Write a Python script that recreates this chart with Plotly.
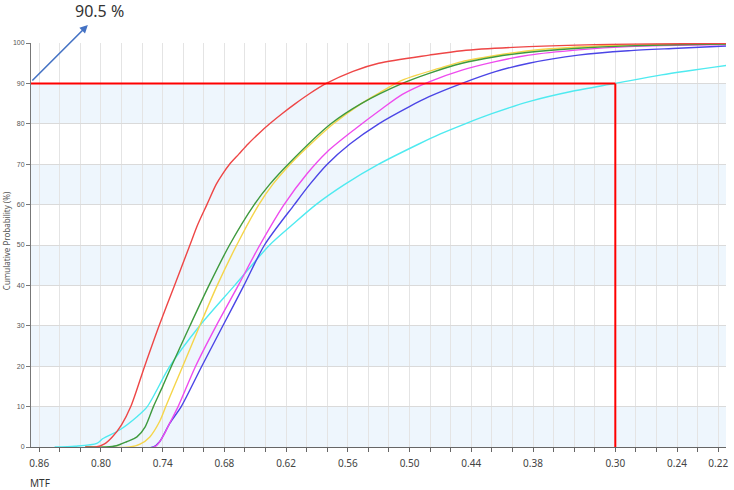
import plotly.graph_objects as go

# ---- data (MTF value, cumulative probability %) ----
mtf_red = [0.815, 0.805, 0.797, 0.789, 0.780, 0.771, 0.7575, 0.7435, 0.7285, 0.7135, 0.706, 0.697, 0.688,
           0.682, 0.675, 0.666, 0.657, 0.647, 0.636, 0.624, 0.611, 0.597, 0.581, 0.555, 0.530, 0.481,
           0.449, 0.384, 0.319, 0.19]
pct_red = [0, 0, 0.7, 2.5, 5.5, 10, 20, 30, 40, 50, 55, 60, 65,
           67.5, 70, 72.5, 75, 77.5, 80, 82.5, 85, 87.5, 90, 93, 95, 97,
           98.1, 99.1, 99.6, 99.9]

mtf_green = [0.815, 0.795, 0.785, 0.775, 0.765, 0.757, 0.749, 0.740, 0.7315, 0.7135, 0.695, 0.675, 0.651,
             0.636, 0.618, 0.5765, 0.547, 0.507, 0.481, 0.449, 0.4166, 0.384, 0.336, 0.287, 0.19]
pct_green = [0, 0, 0.3, 1.3, 2.5, 5, 10, 15, 20, 30, 40, 50, 60,
             65, 70, 80, 85, 90, 92.5, 95, 96.6, 97.7, 98.7, 99.3, 99.75]

mtf_yellow = [0.815, 0.772, 0.762, 0.7525, 0.743, 0.737, 0.7205, 0.704, 0.687, 0.668, 0.6465, 0.633, 0.616,
              0.596, 0.574, 0.547, 0.527, 0.507, 0.4715, 0.449, 0.4166, 0.384, 0.336, 0.287, 0.19]
pct_yellow = [0, 0, 0.7, 2.5, 6.3, 10, 20, 30, 40, 50, 60, 65, 70,
              75, 80, 85, 88, 90.8, 93.7, 95.4, 96.9, 98.1, 99.0, 99.5, 99.8]

mtf_magenta = [0.815, 0.748, 0.740, 0.733, 0.725, 0.708, 0.688, 0.6665, 0.6455, 0.622, 0.5995, 0.580,
               0.552, 0.5265, 0.507, 0.481, 0.449, 0.4166, 0.384, 0.336, 0.287, 0.19]
pct_magenta = [0, 0, 2.5, 6, 10, 20, 30, 40, 50, 60, 67.7, 73.1,
               78.9, 83.8, 87.3, 90.4, 93.3, 95.4, 97, 98.3, 99.1, 99.6]

mtf_blue = [0.815, 0.749, 0.743, 0.733, 0.722, 0.702, 0.6815, 0.661, 0.641, 0.612, 0.597, 0.580, 0.558,
            0.530, 0.5006, 0.481, 0.449, 0.4166, 0.384, 0.336, 0.2874, 0.239, 0.19]
pct_blue = [0, 0, 1.3, 5.9, 10, 20, 30, 40, 50, 60, 65, 70, 75,
            80, 84.2, 86.7, 90, 92.9, 95, 97, 98.1, 98.7, 99.3]

mtf_cyan = [0.845, 0.825, 0.804, 0.798, 0.782, 0.765, 0.755, 0.733, 0.704, 0.670, 0.636, 0.614, 0.591,
            0.563, 0.530, 0.491, 0.470, 0.446, 0.420, 0.384, 0.343, 0.30, 0.255, 0.19]
pct_cyan = [0, 0.2, 0.9, 2.1, 4.2, 7.5, 10, 20, 30, 40, 50, 55, 60,
            65, 70, 75, 77.5, 80, 82.5, 85.5, 88, 90, 92.1, 94.5]

threshold_pct = 90
threshold_mtf = 0.30
annotation_text = "90.5 %"

x_tick_positions = [round(0.86 - 0.02 * i, 2) for i in range(34)]
x_label_positions = [0.86, 0.80, 0.74, 0.68, 0.62, 0.56, 0.50, 0.44, 0.38, 0.30, 0.24, 0.20]
x_label_texts = ["0.86", "0.80", "0.74", "0.68", "0.62", "0.56", "0.50", "0.44", "0.38", "0.30", "0.24", "0.22"]
y_ticks = [0, 10, 20, 30, 40, 50, 60, 70, 80, 90, 100]

X_MAX, X_MIN = 0.868, 0.1924

series = [
    (mtf_cyan, pct_cyan, "#4FEAF0"),
    (mtf_blue, pct_blue, "#4B45E6"),
    (mtf_magenta, pct_magenta, "#EE4BEE"),
    (mtf_yellow, pct_yellow, "#F5D54A"),
    (mtf_green, pct_green, "#3E9A3E"),
    (mtf_red, pct_red, "#EE4646"),
]

fig = go.Figure()
for xs, ys, col in series:
    fig.add_trace(go.Scatter(x=xs, y=ys, mode="lines",
                             line=dict(color=col, width=1.4, shape="spline", smoothing=0.8),
                             showlegend=False, hoverinfo="skip"))

shapes = []
for lo in [0, 20, 40, 60, 80]:
    shapes.append(dict(type="rect", xref="paper", yref="y", x0=0, x1=1, y0=lo, y1=lo + 10,
                       fillcolor="#EEF6FD", line=dict(width=0), layer="below"))
shapes.append(dict(type="line", xref="x", yref="y", x0=X_MAX, x1=threshold_mtf,
                   y0=threshold_pct, y1=threshold_pct, line=dict(color="#FF0000", width=2), layer="above"))
shapes.append(dict(type="line", xref="x", yref="y", x0=threshold_mtf, x1=threshold_mtf,
                   y0=threshold_pct, y1=0, line=dict(color="#FF0000", width=2), layer="above"))

ticktext = []
for v in x_tick_positions:
    if v in x_label_positions:
        ticktext.append(x_label_texts[x_label_positions.index(v)])
    else:
        ticktext.append("")

fig.update_layout(
    width=734, height=490,
    margin=dict(l=31, r=6, t=43, b=43),
    plot_bgcolor="white", paper_bgcolor="white",
    font=dict(family="Noto Sans, Open Sans, sans-serif", color="#444"),
    shapes=shapes,
    xaxis=dict(range=[X_MAX, X_MIN], tickmode="array", tickvals=x_tick_positions, ticktext=ticktext,
               showgrid=True, gridcolor="#E4E4E4", gridwidth=1, zeroline=False,
               ticks="outside", ticklen=4, tickcolor="#666", showline=True, linecolor="#666",
               linewidth=1, tickfont=dict(size=10, color="#444"), ticklabelstandoff=3),
    yaxis=dict(range=[0, 100], tickmode="array", tickvals=y_ticks,
               showgrid=True, gridcolor="#DADADA", gridwidth=1, zeroline=False,
               ticks="outside", ticklen=4, tickcolor="#777", showline=True, linecolor="#777",
               linewidth=1, tickfont=dict(size=7, color="#555", family="Liberation Sans Narrow, Liberation Sans")),
    annotations=[
        dict(xref="paper", yref="paper", x=0.0818, y=1.0446, ax=-57, ay=57, text="",
             showarrow=True, arrowhead=2, arrowsize=1, arrowwidth=1.6, arrowcolor="#4472C4"),
        dict(xref="paper", yref="paper", x=0.099, y=1.079, text=annotation_text, showarrow=False,
             xanchor="center", yanchor="middle", borderpad=0, font=dict(size=16, color="#333")),
        dict(xref="paper", yref="paper", x=-0.004, y=-0.088, text="MTF", showarrow=False,
             xanchor="left", yanchor="middle", font=dict(size=10, color="#333")),
        dict(xref="paper", yref="paper", x=-0.036, y=0.512, text="Cumulative Probability (%)",
             showarrow=False, textangle=-90, xanchor="center", yanchor="middle",
             font=dict(size=8, color="#555")),
    ],
)

fig.write_html("out.html")
